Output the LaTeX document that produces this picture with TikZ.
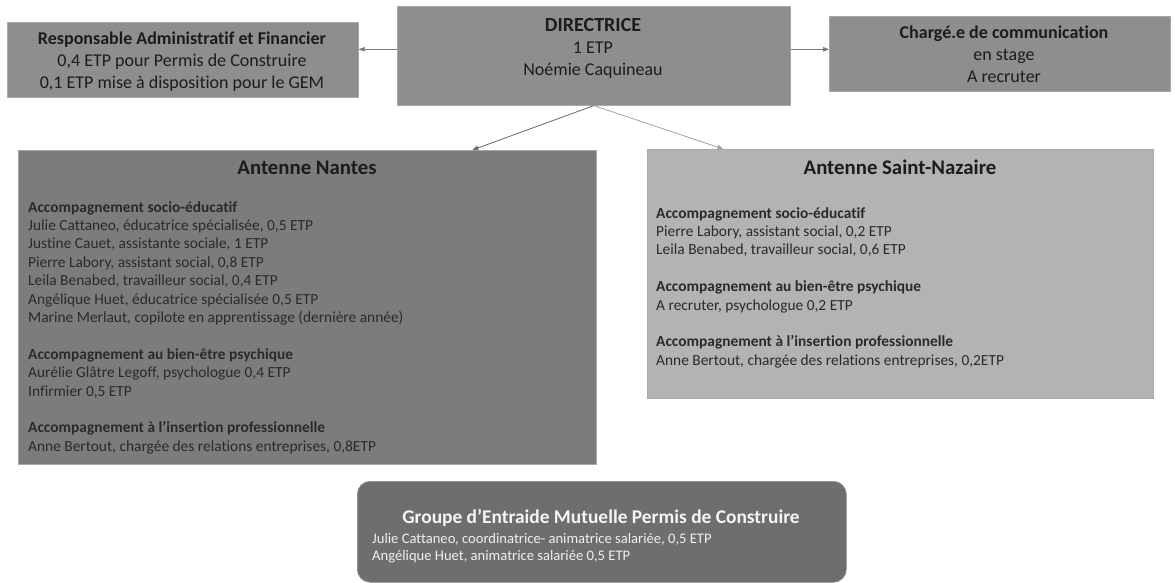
\documentclass[tikz,border=0pt]{standalone}
\usepackage{fontspec}
\setmainfont{Carlito}[Ligatures=NoCommon]
\usetikzlibrary{arrows.meta}
\definecolor{topgray}{HTML}{8E8E8E}
\definecolor{edgegray}{HTML}{A8A8A8}
\definecolor{nantesgray}{HTML}{7C7C7C}
\definecolor{sngray}{HTML}{B3B3B3}
\definecolor{gemgray}{HTML}{6E6E6E}
\definecolor{txtdark}{HTML}{1C1C1C}
\definecolor{txtbody}{HTML}{2A2A2A}
\definecolor{arrowgray}{HTML}{7A7A7A}
\begin{document}
\begin{tikzpicture}[x=1pt,y=-1pt,
  boxbase/.style={draw=edgegray, line width=0.6pt, inner sep=0pt, anchor=north west},
  topbox/.style={boxbase, fill=topgray},
  toptext/.style={align=center, text=txtdark, inner sep=0pt, font=\fontsize{18}{22}\selectfont},
  titletext/.style={text=txtdark, inner sep=0pt, font=\fontsize{20.8}{24}\selectfont\bfseries},
  bodytext/.style={align=left, text=txtbody, inner sep=0pt, anchor=north west, font=\fontsize{15.4}{18.4}\selectfont},
  gemtext/.style={align=left, text=white!88!gray, inner sep=0pt, anchor=north west, font=\fontsize{14.6}{17}\selectfont},
  conn/.style={draw=arrowgray, line width=0.8pt, -{Triangle[length=6pt,width=4.5pt]}}
]
\useasboundingbox[fill=white] (0,0) rectangle (1175,583);

% boxes
\node[topbox, minimum width=351pt, minimum height=75pt] (raf) at (7,22) {};
\node[topbox, minimum width=393pt, minimum height=99pt] (dir) at (397,6) {};
\node[topbox, minimum width=341pt, minimum height=75pt] (chg) at (829,16) {};
\node[boxbase, fill=nantesgray, minimum width=578pt, minimum height=314pt] (nan) at (18,150) {};
\node[boxbase, fill=sngray, minimum width=506pt, minimum height=249pt] (sn) at (647,149) {};
\node[boxbase, draw=gemgray!80!white, fill=gemgray, rounded corners=13pt, minimum width=489pt, minimum height=101pt] (gem) at (357,481) {};

% top texts
\node[toptext] (raftxt) at (182,61.5) {\textbf{Responsable Administratif et Financier}\\0,4 ETP pour Permis de Construire\\0,1 ETP mise à disposition pour le GEM};
\node[toptext] (dirtxt) at (593,48) {{\fontsize{20}{22}\selectfont\textbf{DIRECTRICE}}\\1 ETP\\Noémie Caquineau};
\node[toptext] (chgtxt) at (1004,54) {\textbf{Chargé.e de communication}\\en stage\\A recruter};

% Nantes
\node[titletext] (nantitle) at (307,168) {Antenne Nantes};
\node[bodytext] (nanbody) at (28,201) {\textbf{Accompagnement socio-éducatif}\\
Julie Cattaneo, éducatrice spécialisée, 0,5 ETP\\
Justine Cauet, assistante sociale, 1 ETP\\
Pierre Labory, assistant social, 0,8 ETP\\
Leila Benabed, travailleur social, 0,4 ETP\\
Angélique Huet, éducatrice spécialisée 0,5 ETP\\
Marine Merlaut, copilote en apprentissage (dernière année)\\[18.4pt]
\textbf{Accompagnement au bien-être psychique}\\
Aurélie Glâtre Legoff, psychologue 0,4 ETP\\
Infirmier 0,5 ETP\\[18.4pt]
\textbf{Accompagnement à l’insertion professionnelle}\\
Anne Bertout, chargée des relations entreprises, 0,8ETP};

% Saint-Nazaire
\node[titletext] (sntitle) at (900,167) {Antenne Saint-Nazaire};
\node[bodytext] (snbody) at (656,207) {\textbf{Accompagnement socio-éducatif}\\
Pierre Labory, assistant social, 0,2 ETP\\
Leila Benabed, travailleur social, 0,6 ETP\\[18.4pt]
\textbf{Accompagnement au bien-être psychique}\\
A recruter, psychologue 0,2 ETP\\[18.4pt]
\textbf{Accompagnement à l’insertion professionnelle}\\
Anne Bertout, chargée des relations entreprises, 0,2ETP};

% GEM
\node[titletext, text=white!92!gray, font=\fontsize{19.4}{22}\selectfont\bfseries] (gemtitle) at (601,518) {Groupe d’Entraide Mutuelle Permis de Construire};
\node[gemtext] (gembody) at (372,533) {Julie Cattaneo, coordinatrice- animatrice salariée, 0,5 ETP\\
Angélique Huet, animatrice salariée 0,5 ETP};

% connectors
\draw[conn] ([yshift=6.5pt]dir.west) -- ([yshift=10.5pt]raf.east);
\draw[conn] ([yshift=6.5pt]dir.east) -- ([yshift=4.5pt]chg.west);
\draw[conn, draw=arrowgray!85!black] (dir.south) -- ([xshift=165pt]nan.north);
\draw[conn, draw=arrowgray!70!white] (dir.south) -- ([xshift=-177pt]sn.north);
\end{tikzpicture}
\end{document}
